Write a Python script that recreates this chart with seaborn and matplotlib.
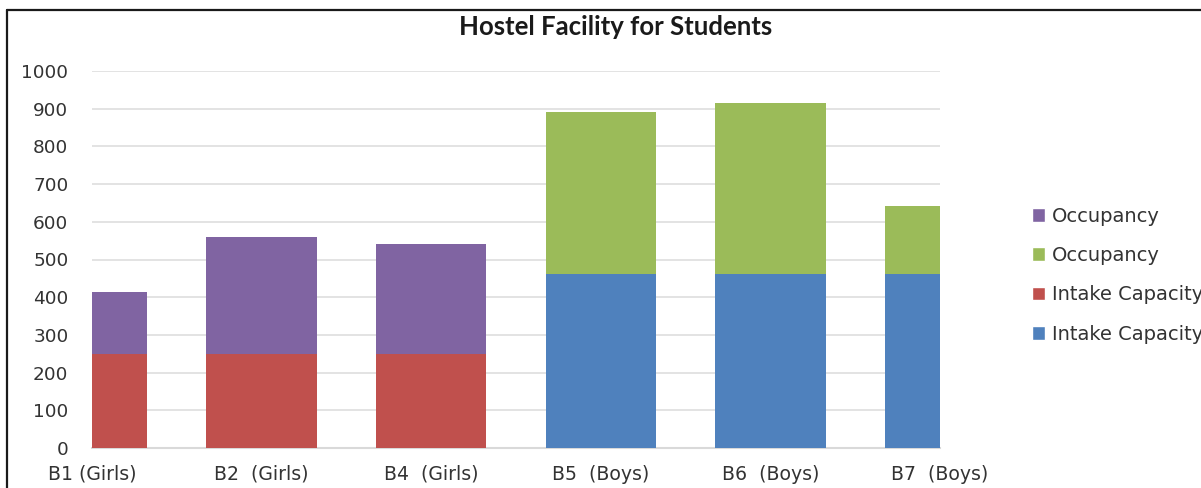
import matplotlib
matplotlib.use("Agg")
import matplotlib.pyplot as plt
import seaborn as sns
import pandas as pd
from matplotlib.patches import Patch
from matplotlib.lines import Line2D

categories = ["B1 (Girls)", "B2  (Girls)", "B4  (Girls)", "B5  (Boys)", "B6  (Boys)", "B7  (Boys)"]
intake = [250, 250, 250, 462, 462, 462]
occupancy = [165, 310, 292, 429, 453, 180]
groups = ["Girls", "Girls", "Girls", "Boys", "Boys", "Boys"]
yticks = [0, 100, 200, 300, 400, 500, 600, 700, 800, 900, 1000]

col_occ = {"Girls": "#8064A2", "Boys": "#9BBB59"}
col_int = {"Girls": "#C0504D", "Boys": "#4F81BD"}

df = pd.DataFrame({"cat": categories, "intake": intake, "occ": occupancy, "grp": groups})
df["total"] = df["intake"] + df["occ"]

sns.set_theme(style="white")
plt.rcParams["font.family"] = ["DejaVu Sans"]

fig = plt.figure(figsize=(12.01, 4.88), dpi=100)
W, H = 1201, 488
ax = fig.add_axes([92 / W, 40 / H, 848 / W, 377 / H])

sns.barplot(data=df, x="cat", y="total", hue="grp", palette=col_occ, dodge=False,
            width=0.65, saturation=1, legend=False, ax=ax, zorder=3)
sns.barplot(data=df, x="cat", y="intake", hue="grp", palette=col_int, dodge=False,
            width=0.65, saturation=1, legend=False, ax=ax, zorder=3)
for p in ax.patches:
    p.set_linewidth(0)

ax.set_xlim(0, len(categories) - 1)
ax.set_ylim(0, 1000)
ax.set_yticks(yticks)
ax.set_yticklabels([str(v) for v in yticks])
ax.set_xlabel("")
ax.set_ylabel("")
ax.yaxis.grid(True, color="#E0E0E0", linewidth=1.3, zorder=0)
ax.set_axisbelow(True)
for s in ["top", "right", "left"]:
    ax.spines[s].set_visible(False)
ax.spines["bottom"].set_color("#D9D9D9")
ax.spines["bottom"].set_linewidth(1.5)
ax.tick_params(axis="y", length=0, pad=17, labelsize=13.3, labelcolor="#333333")
ax.tick_params(axis="x", length=0, pad=12, labelsize=13.6, labelcolor="#333333")

fig.text(616 / W, 1 - 27 / H, "Hostel Facility for Students", ha="center", va="center",
         fontsize=18.5, fontweight="bold", family=["Lato", "DejaVu Sans"], color="#1a1a1a")

handles = [Patch(facecolor=col_occ["Girls"], label="Occupancy"),
           Patch(facecolor=col_occ["Boys"], label="Occupancy"),
           Patch(facecolor=col_int["Girls"], label="Intake Capacity"),
           Patch(facecolor=col_int["Boys"], label="Intake Capacity")]
leg = fig.legend(handles=handles, loc="upper left", bbox_to_anchor=(1014 / W, 1 - 189 / H),
                 frameon=False, fontsize=14, handlelength=0.7, handleheight=0.7,
                 handletextpad=0.35, labelspacing=1.05, labelcolor="#333333")

fig.add_artist(Line2D([7 / W, 7 / W], [0, 1 - 10 / H], transform=fig.transFigure,
                      color="#1a1a1a", linewidth=1.6))
fig.add_artist(Line2D([7 / W, 1], [1 - 10 / H, 1 - 10 / H], transform=fig.transFigure,
                      color="#1a1a1a", linewidth=1.6))

fig.savefig("out.png", dpi=100)
